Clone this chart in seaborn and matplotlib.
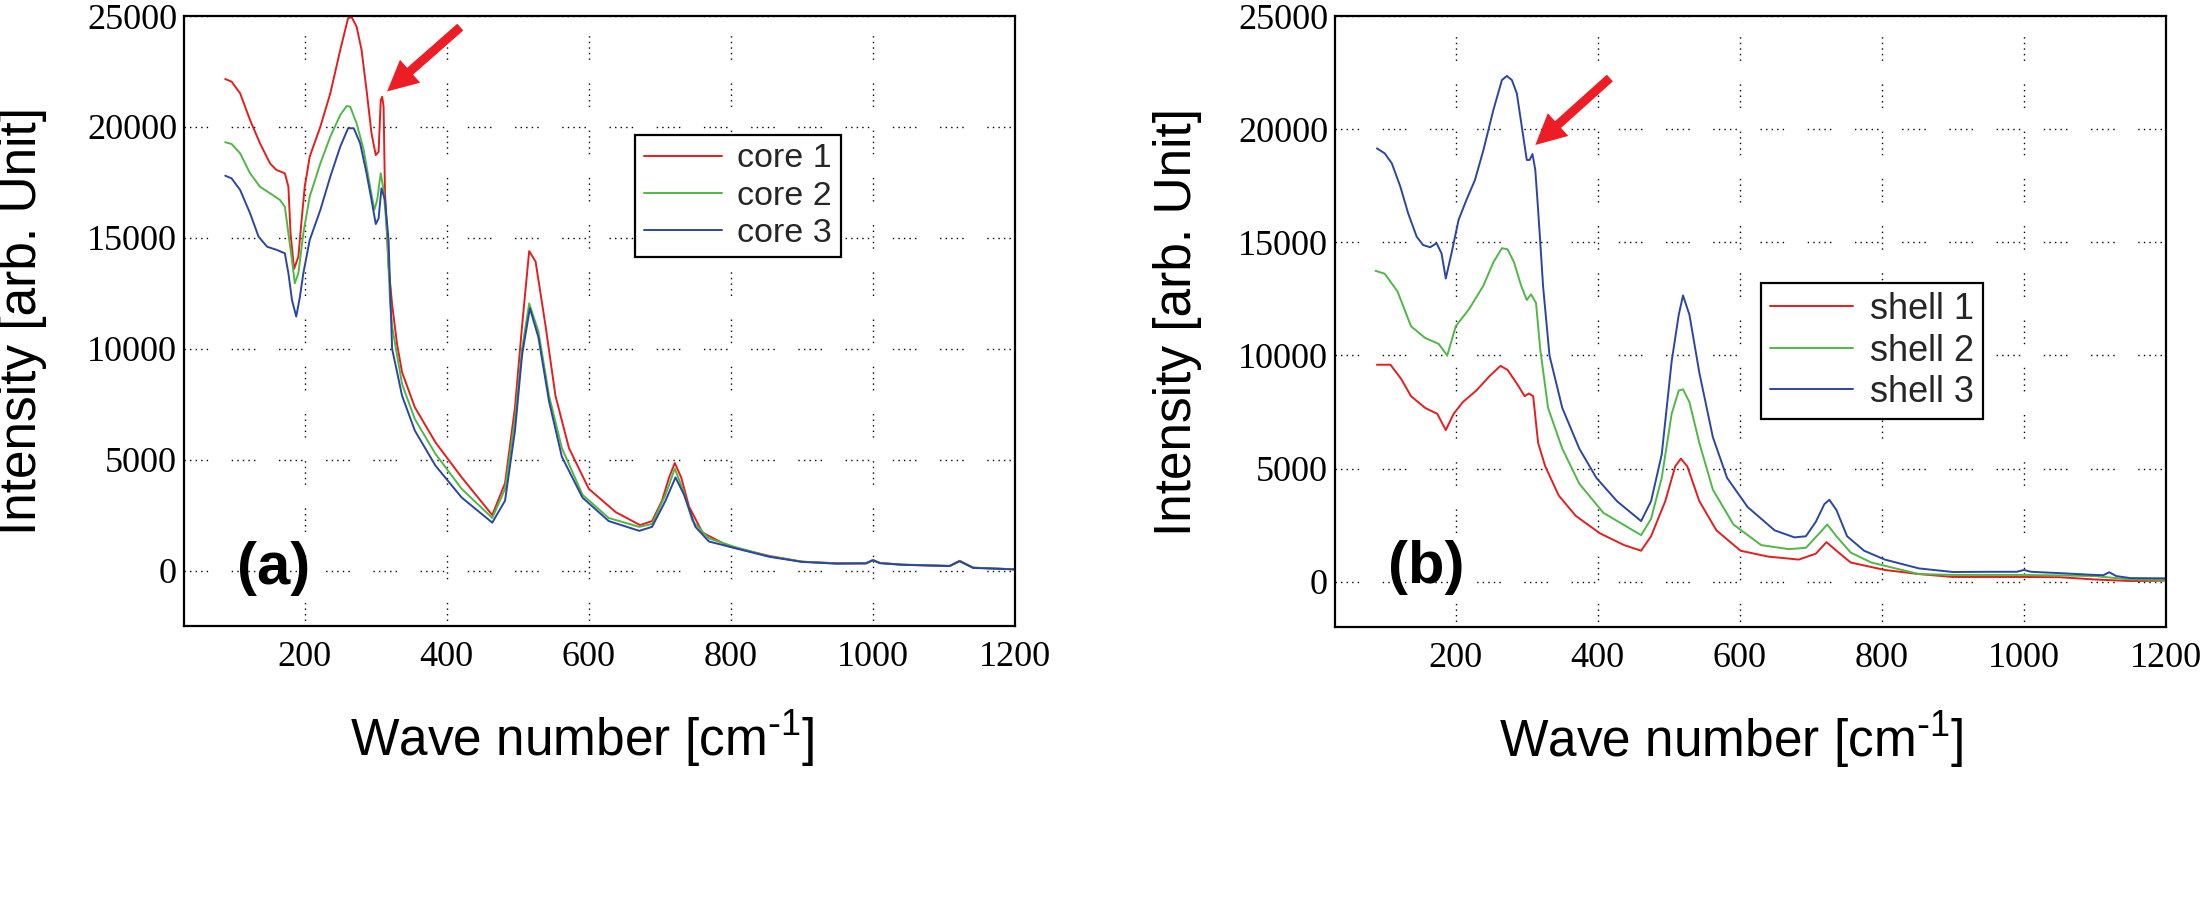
import numpy as np
import pandas as pd
import matplotlib
matplotlib.use("Agg")
import matplotlib.pyplot as plt
import seaborn as sns

# ---------------- data ----------------
core1_x = [88, 97, 109, 123, 137, 151, 160, 172, 177, 180, 185, 191, 196, 200, 207, 222, 236, 250, 261, 266,
           273, 280, 287, 294, 300, 304, 307, 309, 311, 313, 318, 323, 330, 337, 355, 384, 421, 464, 482, 496,
           506, 516, 525, 539, 553, 572, 600, 638, 672, 689, 703, 713, 721, 730, 741, 760, 798, 854, 900, 948,
           990, 1000, 1010, 1042, 1108, 1122, 1141, 1200]
core1_y = [22160, 22040, 21515, 20310, 19260, 18360, 18060, 17910, 17300, 15200, 13600, 14150, 15950, 17300, 18660,
           20010, 21515, 23470, 24900, 24950, 24520, 23470, 21660, 19710, 18730, 18880, 21210, 21360, 20910, 17000,
           13700, 12000, 10200, 8940, 7360, 5780, 4200, 2500, 3940, 7360, 11040, 14400, 13930, 11040, 7880, 5520,
           3680, 2630, 2050, 2230, 3150, 4200, 4850, 4200, 2890, 1710, 1080, 660, 400, 330, 330, 470, 340, 260,
           210, 440, 130, 55]

core2_x = [88, 97, 109, 123, 137, 151, 165, 172, 177, 182, 186, 191, 198, 207, 222, 236, 250, 259, 264, 273,
           283, 292, 298, 302, 307, 311, 316, 320, 323, 337, 355, 384, 421, 464, 482, 496, 506, 516, 529, 544,
           562, 591, 628, 671, 689, 708, 721, 732, 746, 769, 807, 854, 900, 948, 990, 1000, 1010, 1042, 1108,
           1122, 1141, 1200]
core2_y = [19310, 19230, 18810, 17910, 17300, 17010, 16710, 16400, 15200, 14000, 12950, 13400, 15200, 16860, 18360,
           19560, 20540, 20940, 20910, 20160, 18960, 17300, 16260, 16710, 17910, 17160, 15200, 12200, 11000, 8410,
           6830, 5260, 3680, 2370, 3680, 6830, 9990, 12040, 10780, 7880, 5520, 3420, 2370, 1970, 2100, 3420, 4600,
           3680, 2230, 1450, 1050, 640, 400, 320, 330, 480, 340, 270, 210, 430, 130, 55]

core3_x = [88, 97, 109, 123, 135, 147, 161, 172, 177, 182, 188, 193, 198, 207, 222, 236, 250, 261, 269, 278,
           287, 294, 300, 304, 308, 313, 318, 323, 337, 355, 384, 421, 464, 482, 496, 506, 517, 529, 544, 562,
           591, 628, 671, 689, 708, 722, 734, 750, 769, 807, 854, 900, 948, 990, 1000, 1010, 1042, 1108, 1122,
           1141, 1200]
core3_y = [17800, 17680, 17160, 16110, 15050, 14600, 14450, 14300, 13400, 12200, 11450, 12300, 13400, 14900, 16260,
           17760, 19110, 19940, 19940, 19260, 17910, 16710, 15620, 15880, 17230, 16710, 14900, 10000, 7880, 6310,
           4730, 3290, 2160, 3150, 6310, 9720, 11830, 10510, 7620, 5130, 3290, 2230, 1790, 1970, 3150, 4200, 3420,
           1970, 1310, 1000, 620, 390, 310, 320, 460, 330, 260, 200, 420, 120, 50]

shell1_x = [89, 108, 123, 137, 157, 174, 186, 197, 210, 229, 248, 263, 273, 287, 297, 303, 309, 316, 326, 345,
            369, 403, 437, 461, 475, 495, 509, 517, 526, 543, 567, 601, 640, 683, 707, 722, 736, 756, 804, 852,
            900, 950, 1000, 1050, 1100, 1150, 1200]
shell1_y = [9590, 9590, 8970, 8200, 7680, 7420, 6700, 7420, 7940, 8450, 9100, 9540, 9360, 8710, 8200, 8320, 8200,
            6130, 5100, 3810, 2910, 2140, 1620, 1370, 2010, 3560, 5100, 5440, 5100, 3560, 2270, 1370, 1110, 980,
            1240, 1750, 1370, 850, 520, 340, 210, 210, 210, 200, 100, 30, 50]

shell2_x = [87, 100, 118, 137, 157, 176, 188, 200, 219, 239, 253, 265, 273, 282, 292, 300, 306, 313, 319, 330,
            350, 374, 408, 461, 475, 490, 504, 514, 520, 529, 543, 562, 591, 630, 669, 693, 712, 723, 736, 756,
            785, 852, 900, 950, 1000, 1050, 1100, 1150, 1200]
shell2_y = [13740, 13610, 12830, 11290, 10770, 10510, 10000, 11290, 12060, 13090, 14120, 14740, 14690, 14120, 13090,
            12450, 12700, 12320, 10260, 7680, 5880, 4330, 3040, 2060, 2780, 4590, 7420, 8450, 8500, 7940, 6130,
            4070, 2530, 1620, 1440, 1500, 2140, 2530, 2010, 1290, 850, 340, 300, 300, 300, 280, 250, 100, 80]

shell3_x = [89, 100, 110, 122, 133, 145, 154, 164, 173, 180, 186, 194, 204, 215, 227, 239, 253, 265, 272, 279,
            286, 293, 300, 304, 308, 312, 315, 319, 323, 332, 350, 374, 398, 427, 461, 475, 490, 504, 514, 520,
            529, 543, 562, 582, 611, 649, 677, 693, 707, 719, 726, 736, 751, 775, 804, 852, 900, 950, 990, 1000,
            1010, 1050, 1100, 1112, 1120, 1130, 1150, 1200]
shell3_y = [19150, 18930, 18490, 17460, 16280, 15250, 14880, 14780, 14960, 14510, 13400, 14510, 15990, 16870, 17750,
            19080, 20850, 22170, 22350, 22170, 21580, 20110, 18640, 18640, 18900, 18200, 16870, 15000, 13040,
            10000, 7680, 5880, 4590, 3560, 2680, 3560, 5620, 9740, 11800, 12650, 11800, 9230, 6390, 4590, 3300,
            2270, 1960, 2010, 2650, 3430, 3620, 3170, 2010, 1370, 980, 590, 430, 440, 440, 520, 440, 380, 300,
            290, 420, 250, 160, 150]

core_labels = ["core 1", "core 2", "core 3"]
shell_labels = ["shell 1", "shell 2", "shell 3"]
x_ticks = [200, 400, 600, 800, 1000, 1200]
y_ticks = [0, 5000, 10000, 15000, 20000, 25000]

# ---------------- style ----------------
sns.set_theme(style="white")
plt.rcParams["font.family"] = ["Liberation Sans", "DejaVu Sans"]
plt.rcParams["mathtext.default"] = "regular"

RED, GREEN, BLUE = "#e41e1e", "#4fb845", "#2a46a2"
ARROW = "#ee1c25"

def long_df(xs, ys, labels):
    frames = []
    for x, y, lab in zip(xs, ys, labels):
        frames.append(pd.DataFrame({"x": x, "y": y, "series": lab}))
    return pd.concat(frames, ignore_index=True)

df_core = long_df([core1_x, core2_x, core3_x], [core1_y, core2_y, core3_y], core_labels)
df_shell = long_df([shell1_x, shell2_x, shell3_x], [shell1_y, shell2_y, shell3_y], shell_labels)

fig = plt.figure(figsize=(22.05, 9.13), dpi=100)
axA = fig.add_axes([184 / 2205, 1 - 626 / 913, 831 / 2205, 610 / 913])
axB = fig.add_axes([1335 / 2205, 1 - 627 / 913, 831 / 2205, 611 / 913])

grid_dash = (0, (1, 3, 1, 3, 1, 3, 1, 3, 1, 17))
XLABEL = r"Wave number [cm$^{\text{-}1}$]"

def style_axes(ax, ylim, df, labels, leg_anchor, leg_fs, handlelen, letter, arrow_tip, arrow_tail,
               ylab_x, xlab_x):
    sns.lineplot(data=df, x="x", y="y", hue="series", hue_order=labels,
                 palette=dict(zip(labels, [RED, GREEN, BLUE])), estimator=None, sort=False,
                 linewidth=1.4, ax=ax)
    ax.set_xlim(30, 1200)
    ax.set_ylim(*ylim)
    ax.set_xticks(x_ticks)
    ax.set_yticks(y_ticks)
    ax.set_xticklabels([str(t) for t in x_ticks], fontfamily="Liberation Serif", fontsize=26)
    ax.set_yticklabels([str(t) for t in y_ticks], fontfamily="Liberation Serif", fontsize=26)
    ax.tick_params(axis="x", length=0, pad=11, colors="black")
    ax.tick_params(axis="y", length=0, pad=5, colors="black")
    ax.grid(True, color="black", linewidth=1.0, linestyle=grid_dash)
    ax.set_axisbelow(True)
    for sp in ax.spines.values():
        sp.set_color("black")
        sp.set_linewidth(1.6)
    ax.set_xlabel(XLABEL, fontsize=37, color="black")
    ax.set_ylabel("Intensity [arb. Unit]", fontsize=37, color="black")
    ax.xaxis.set_label_coords(xlab_x, -0.135)
    ax.yaxis.set_label_coords(ylab_x, 0.5)
    handles, labs = ax.get_legend_handles_labels()
    leg = ax.legend(handles, labs, loc="upper left", bbox_to_anchor=leg_anchor, fontsize=leg_fs,
                    frameon=True, fancybox=False, edgecolor="black", framealpha=1,
                    handlelength=handlelen, handletextpad=0.45, labelspacing=0.18,
                    borderpad=0.25, borderaxespad=0)
    leg.get_frame().set_linewidth(1.6)
    for line in leg.get_lines():
        line.set_linewidth(1.4)
    ax.text(letter[0], letter[1], letter[2], transform=ax.transAxes, fontsize=43,
            fontweight="bold", ha="center", va="center", color="black")
    ax.annotate("", xy=arrow_tip, xytext=arrow_tail,
                arrowprops=dict(facecolor=ARROW, edgecolor="none", width=6.5, headwidth=22,
                                headlength=22, shrink=0))

style_axes(axA, (-2500, 25000), df_core, core_labels, (0.543, 0.805), 24.5, 2.3,
           (0.108, 0.095, "(a)"), (316, 21600), (419, 24500), -0.165, 0.479)
style_axes(axB, (-2000, 25000), df_shell, shell_labels, (0.513, 0.563), 26, 2.3,
           (0.1095, 0.097, "(b)"), (312, 19300), (417, 22260), -0.16, 0.4765)

fig.savefig("out.png", dpi=100)
